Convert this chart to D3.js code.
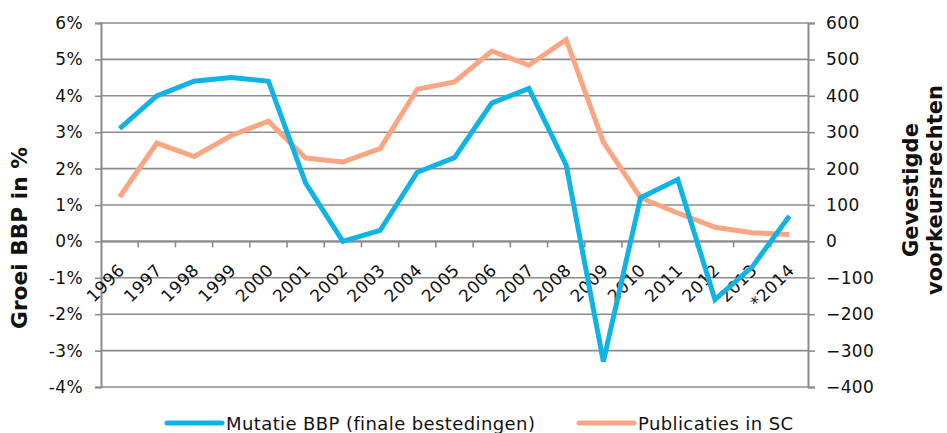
<!DOCTYPE html>
<html>
<head>
<meta charset="utf-8">
<script src="https://cdn.jsdelivr.net/npm/d3@7"></script>
<style>
  body { margin: 0; background: #fff; }
  text { font-family: "DejaVu Sans", Verdana, sans-serif; fill: #111; }
</style>
</head>
<body>
<div id="chart"></div>
<script>
// Chart data
var years = ["1996", "1997", "1998", "1999", "2000", "2001", "2002", "2003", "2004", "2005",
  "2006", "2007", "2008", "2009", "2010", "2011", "2012", "2013", "*2014"];
var bbpGrowth = [3.1, 4.0, 4.4, 4.5, 4.4, 1.6, 0.0, 0.3, 1.9, 2.3,
  3.8, 4.2, 2.1, -3.3, 1.2, 1.7, -1.6, -0.7, 0.7];
var publications = [122, 270, 233, 291, 330, 229, 218, 255, 418, 438,
  523, 484, 554, 273, 120, 78, 39, 24, 19];
var leftTicks = [-4, -3, -2, -1, 0, 1, 2, 3, 4, 5, 6];
var rightTicks = [-400, -300, -200, -100, 0, 100, 200, 300, 400, 500, 600];

var seriesNames = ["Mutatie BBP (finale bestedingen)", "Publicaties in SC"];
var colors = ["#0fb3e5", "#fca583"];

// Size and plot area
var svgWidth = 947;
var svgHeight = 433;
var margin = { top: 23, right: 139, bottom: 46, left: 101 };
var width = svgWidth - margin.left - margin.right;
var height = svgHeight - margin.top - margin.bottom;

var svg = d3.select("#chart")
  .append("svg")
  .attr("width", svgWidth)
  .attr("height", svgHeight);

var chartGroup = svg.append("g")
  .attr("transform", `translate(${margin.left}, ${margin.top})`);

// Scales
var xScale = d3.scaleBand()
  .domain(years)
  .range([0, width]);

var yLeft = d3.scaleLinear()
  .domain([-4, 6])
  .range([height, 0]);

var yRight = d3.scaleLinear()
  .domain([-400, 600])
  .range([height, 0]);

var gridColor = "#8c8c8c";
var tickFont = "17px";

// Gridlines
chartGroup.append("g")
  .selectAll("line")
  .data(leftTicks)
  .enter()
  .append("line")
  .attr("x1", 0)
  .attr("x2", width)
  .attr("y1", d => yLeft(d))
  .attr("y2", d => yLeft(d))
  .attr("stroke", gridColor)
  .attr("stroke-width", 1.6);

// Left axis
var leftAxis = chartGroup.append("g")
  .call(d3.axisLeft(yLeft).tickValues(leftTicks).tickSize(6).tickPadding(12)
    .tickFormat(d => d + "%"));
leftAxis.select(".domain").attr("stroke", gridColor).attr("stroke-width", 2);
leftAxis.selectAll(".tick line").attr("stroke", gridColor).attr("stroke-width", 1.6);
leftAxis.selectAll(".tick text")
  .style("font-size", tickFont)
  .style("letter-spacing", "0.4px")
  .style("font-family", "DejaVu Sans, Verdana, sans-serif")
  .attr("fill", "#111");

// Right axis
var rightAxis = chartGroup.append("g")
  .attr("transform", `translate(${width}, 0)`)
  .call(d3.axisRight(yRight).tickValues(rightTicks).tickSize(7).tickPadding(11));
rightAxis.select(".domain").attr("stroke", gridColor).attr("stroke-width", 2);
rightAxis.selectAll(".tick line").attr("stroke", gridColor).attr("stroke-width", 1.6);
rightAxis.selectAll(".tick text")
  .style("font-size", tickFont)
  .style("letter-spacing", "0.4px")
  .style("font-family", "DejaVu Sans, Verdana, sans-serif")
  .attr("fill", "#111");

// Category axis sitting on the zero line
var catGroup = chartGroup.append("g")
  .attr("transform", `translate(0, ${yLeft(0)})`);

catGroup.append("line")
  .attr("x1", 0)
  .attr("x2", width)
  .attr("stroke", gridColor)
  .attr("stroke-width", 2);

catGroup.selectAll(".cat-tick")
  .data(years.slice(1))
  .enter()
  .append("line")
  .attr("class", "cat-tick")
  .attr("x1", d => xScale(d))
  .attr("x2", d => xScale(d))
  .attr("y1", 0)
  .attr("y2", 6)
  .attr("stroke", gridColor)
  .attr("stroke-width", 1.6);

catGroup.selectAll(".cat-label")
  .data(years)
  .enter()
  .append("text")
  .attr("class", "cat-label")
  .attr("text-anchor", "end")
  .style("font-size", tickFont)
  .style("letter-spacing", "0.4px")
  .attr("transform", d => {
    var cx = xScale(d) + xScale.bandwidth() / 2 + 6;
    return `translate(${cx}, 30) rotate(-45)`;
  })
  .text(d => d);

// Lines
var bbpLine = d3.line()
  .x((d, i) => xScale(years[i]) + xScale.bandwidth() / 2)
  .y(d => yLeft(d));

var pubLine = d3.line()
  .x((d, i) => xScale(years[i]) + xScale.bandwidth() / 2)
  .y(d => yRight(d));

chartGroup.append("path")
  .datum(publications)
  .attr("d", pubLine)
  .attr("fill", "none")
  .attr("stroke", colors[1])
  .attr("stroke-width", 5);

chartGroup.append("path")
  .datum(bbpGrowth)
  .attr("d", bbpLine)
  .attr("fill", "none")
  .attr("stroke", colors[0])
  .attr("stroke-width", 5);

// Axis titles, sized to the length they have in the original
function fitText(sel, target) {
  var len = sel.node().getComputedTextLength();
  sel.style("font-size", (20 * target / len) + "px");
}

var leftTitle = svg.append("text")
  .attr("transform", "translate(27, 238) rotate(-90)")
  .attr("text-anchor", "middle")
  .style("font-size", "20px")
  .style("font-weight", "bold")
  .text("Groei BBP in %");
fitText(leftTitle, 182);

var rightTitle1 = svg.append("text")
  .attr("transform", "translate(918, 190) rotate(-90)")
  .attr("text-anchor", "middle")
  .style("font-size", "20px")
  .style("font-weight", "bold")
  .text("Gevestigde");
fitText(rightTitle1, 134);

var rightTitle2 = svg.append("text")
  .attr("transform", "translate(942, 190) rotate(-90)")
  .attr("text-anchor", "middle")
  .style("font-size", "20px")
  .style("font-weight", "bold")
  .text("voorkeursrechten");
fitText(rightTitle2, 210);

// Legend
var legendItems = [
  { name: seriesNames[0], color: colors[0], x: 167 },
  { name: seriesNames[1], color: colors[1], x: 579 }
];

var legend = svg.append("g");
legendItems.forEach(function(item) {
  legend.append("line")
    .attr("x1", item.x)
    .attr("x2", item.x + 55)
    .attr("y1", 423)
    .attr("y2", 423)
    .attr("stroke", item.color)
    .attr("stroke-width", 5)
    .attr("stroke-linecap", "round");
  legend.append("text")
    .attr("x", item.x + 59)
    .attr("y", 430)
    .style("font-size", "18px")
    .style("letter-spacing", "0.4px")
    .text(item.name);
});
</script>
</body>
</html>
